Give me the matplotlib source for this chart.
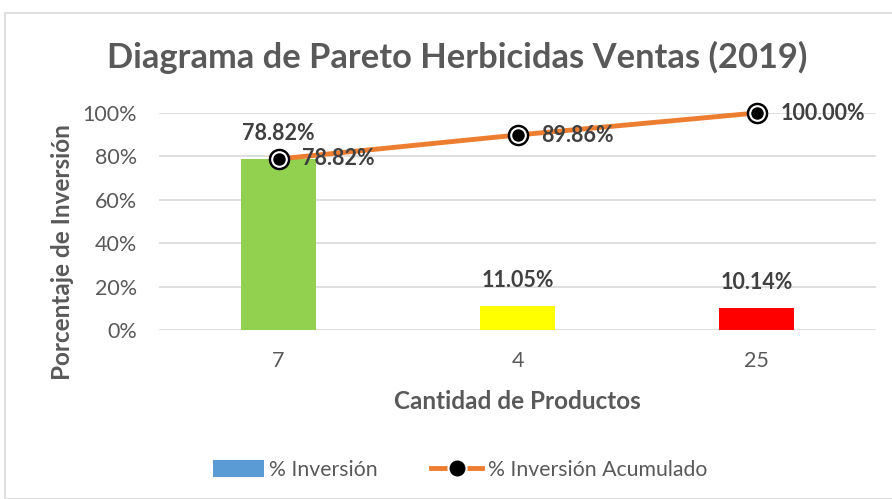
"""Diagrama de Pareto de ventas de herbicidas (2019)."""

import matplotlib

matplotlib.use("Agg")
import matplotlib.pyplot as plt
from matplotlib.lines import Line2D
from matplotlib.patches import Patch, Rectangle
from matplotlib.ticker import FuncFormatter

plt.rcParams["font.family"] = ["Lato", "DejaVu Sans"]

categorias = ["7", "4", "25"]
pct_inversion = [78.82, 11.05, 10.14]
pct_acumulado = [78.82, 89.86, 100.00]
colores_barras = ["#92D050", "#FFFF00", "#FF0000"]

TEXTO = "#595959"
ETIQUETA = "#404040"
NARANJA = "#ED7D31"
GRID = "#D9D9D9"

fig = plt.figure(figsize=(8.92, 4.99), dpi=100)
ax = fig.add_axes((159 / 892, 1 - 330 / 499, 717 / 892, 217 / 499))

# marco del gráfico
fig.patches.append(
    Rectangle((5 / 892, 0), 1, 1 - 13 / 499, transform=fig.transFigure,
              fill=False, edgecolor=GRID, linewidth=1.2)
)

x = range(len(categorias))
ax.bar(x, pct_inversion, width=0.31, color=colores_barras, zorder=2)
ax.plot(x, pct_acumulado, color=NARANJA, linewidth=3.5, zorder=3, clip_on=False)
ax.plot(x, pct_acumulado, linestyle="none", marker="o", markersize=14.5,
        markerfacecolor="black", markeredgecolor="black", zorder=4, clip_on=False)
ax.plot(x, pct_acumulado, linestyle="none", marker="o", markersize=10.5,
        markerfacecolor="black", markeredgecolor="white", markeredgewidth=1.5,
        zorder=5, clip_on=False)

for i, v in enumerate(pct_inversion):
    ax.annotate(f"{v:.2f}%", (i, v), xytext=(0, 11), textcoords="offset points",
                ha="center", va="bottom", fontsize=15.5, fontweight="bold", color=ETIQUETA)
for i, v in enumerate(pct_acumulado):
    ax.annotate(f"{v:.2f}%", (i, v), xytext=(17, 0), textcoords="offset points",
                ha="left", va="center", fontsize=15.5, fontweight="bold", color=ETIQUETA)

ax.set_xlim(-0.5, 2.5)
ax.set_ylim(0, 100)
ax.set_yticks(range(0, 101, 20))
ax.yaxis.set_major_formatter(FuncFormatter(lambda v, _: f"{v:.0f}%"))
ax.set_xticks(list(x))
ax.set_xticklabels(categorias)
ax.tick_params(length=0, labelsize=15.5, colors=TEXTO)
ax.tick_params(axis="x", pad=15)
ax.tick_params(axis="y", pad=16)
ax.grid(axis="y", color=GRID, linewidth=1.2, zorder=0)
for s in ax.spines.values():
    s.set_visible(False)

ax.set_xlabel("Cantidad de Productos", fontsize=17.5, fontweight="bold", color=TEXTO, labelpad=14)
ax.set_ylabel("Porcentaje de Inversión", fontsize=17.5, fontweight="bold", color=TEXTO)
ax.yaxis.set_label_coords(-0.119, 0.36)

fig.text(457 / 892, 1 - 57 / 499, "Diagrama de Pareto Herbicidas Ventas (2019)",
         ha="center", va="center", fontsize=24.8, fontweight="bold", color=TEXTO)

handles = [
    Patch(facecolor="#5B9BD5"),
    Line2D([0], [0], color=NARANJA, linewidth=3.5, marker="o", markersize=13,
           markerfacecolor="black", markeredgecolor="white", markeredgewidth=1.5),
]
fig.legend(handles, ["% Inversión", "% Inversión Acumulado"], loc="center",
           bbox_to_anchor=(460 / 892, 1 - 470 / 499), ncol=2, frameon=False,
           fontsize=15.3, labelcolor=TEXTO, handlelength=2.4, handleheight=0.8,
           columnspacing=2.5, handletextpad=0.25)

fig.savefig("out.png", dpi=100)
